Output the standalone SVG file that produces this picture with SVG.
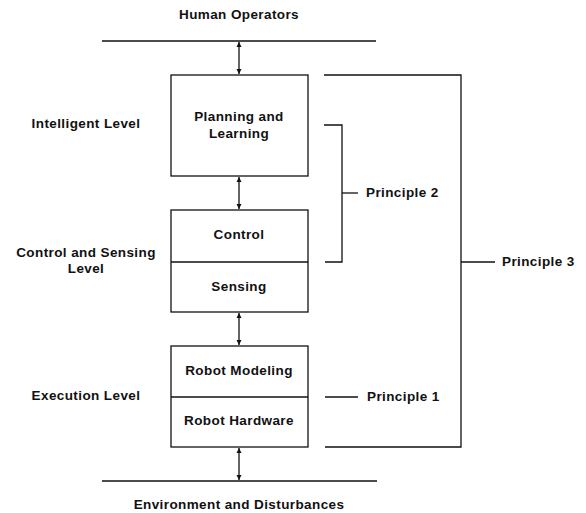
<svg xmlns="http://www.w3.org/2000/svg" width="586" height="513" viewBox="0 0 586 513">
<defs>
<marker id="ah" viewBox="0 0 10 10" refX="10" refY="5" markerWidth="5" markerHeight="6" orient="auto-start-reverse" markerUnits="userSpaceOnUse">
<path d="M0,0 L10,5 L0,10 z" fill="#111"/>
</marker>
<style>
text{font-family:"Liberation Sans",Arial,sans-serif;font-weight:bold;font-size:13.5px;fill:#111;letter-spacing:0.4px}
.c{text-anchor:middle}
.box{fill:#fff;stroke:#111;stroke-width:1.3}
.ln{fill:none;stroke:#111;stroke-width:1.3}
</style>
</defs>
<rect width="586" height="513" fill="#fff"/>
<g id="labels">
<text class="c" x="239" y="19">Human Operators</text>
<text class="c" x="86" y="128">Intelligent Level</text>
<text class="c" x="86" y="257">Control and Sensing</text>
<text class="c" x="86" y="273">Level</text>
<text class="c" x="86" y="400">Execution Level</text>
<text class="c" x="239" y="509">Environment and Disturbances</text>
</g>
<g id="planning">
<rect class="box" x="171" y="75" width="137" height="101"/>
<text class="c" x="239" y="121">Planning and</text>
<text class="c" x="239" y="138">Learning</text>
</g>
<g id="control-sensing">
<rect class="box" x="171" y="210" width="137" height="102"/>
<line class="ln" x1="171" y1="262" x2="308" y2="262"/>
<text class="c" x="239" y="239">Control</text>
<text class="c" x="239" y="291">Sensing</text>
</g>
<g id="robot">
<rect class="box" x="171" y="346" width="137" height="101"/>
<line class="ln" x1="171" y1="397" x2="308" y2="397"/>
<text class="c" x="239" y="375">Robot Modeling</text>
<text class="c" x="239" y="425">Robot Hardware</text>
</g>
<g id="principles">
<text x="366" y="197">Principle 2</text>
<text x="502" y="266">Principle 3</text>
<text x="367" y="401">Principle 1</text>
</g>
<g id="connectors">
<line class="ln" x1="102" y1="41" x2="376" y2="41"/>
<line class="ln" x1="102" y1="481" x2="377" y2="481"/>
<line class="ln" x1="239" y1="42" x2="239" y2="74" marker-start="url(#ah)" marker-end="url(#ah)"/>
<line class="ln" x1="239" y1="177" x2="239" y2="209" marker-start="url(#ah)" marker-end="url(#ah)"/>
<line class="ln" x1="239" y1="313" x2="239" y2="345" marker-start="url(#ah)" marker-end="url(#ah)"/>
<line class="ln" x1="239" y1="448" x2="239" y2="480" marker-start="url(#ah)" marker-end="url(#ah)"/>
<polyline class="ln" points="324,125 342,125 342,262 325,262"/>
<line class="ln" x1="342" y1="193" x2="358" y2="193"/>
<polyline class="ln" points="324,75 461,75 461,447 325,447"/>
<line class="ln" x1="461" y1="262" x2="495" y2="262"/>
<line class="ln" x1="325" y1="397" x2="358" y2="397"/>
</g>
</svg>
